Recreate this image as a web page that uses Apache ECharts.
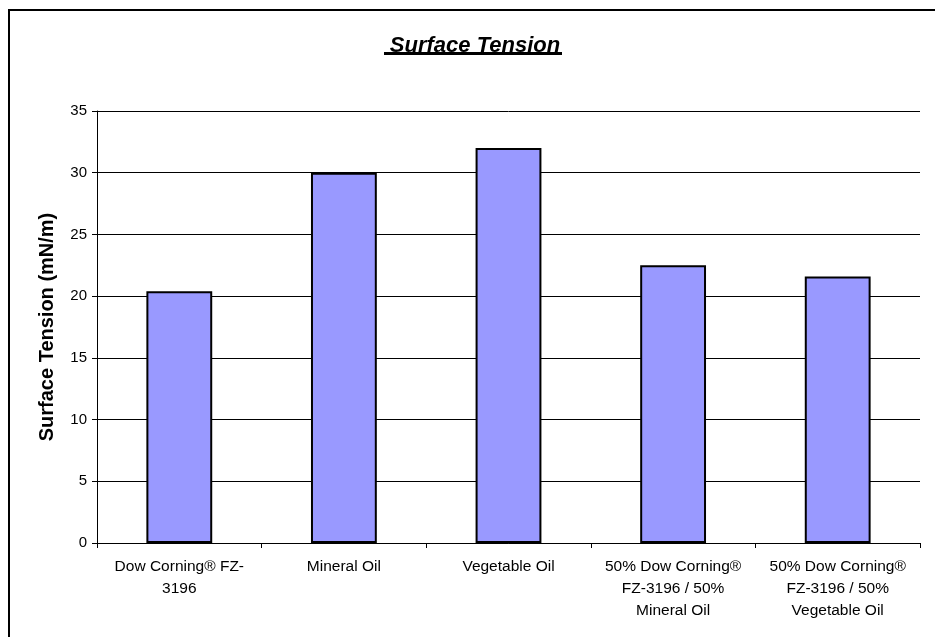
<!DOCTYPE html>
<html>
<head>
<meta charset="utf-8">
<script src="https://cdn.jsdelivr.net/npm/echarts@6/dist/echarts.min.js"></script>
<style>
    html, body { margin: 0; padding: 0; background: #fff; }
    #chart { width: 935px; height: 637px; }
</style>
</head>
<body>
<div id="chart"></div>
<script>
var categories = [
    'Dow Corning® FZ-\n3196',
    'Mineral Oil',
    'Vegetable Oil',
    '50% Dow Corning®\nFZ-3196 / 50%\nMineral Oil',
    '50% Dow Corning®\nFZ-3196 / 50%\nVegetable Oil'
];
var tensionValues = [20.4, 30, 32, 22.5, 21.6];
var yTicks = { min: 0, max: 35, step: 5 };

var myChart = echarts.init(document.getElementById('chart'));
var option = {
    backgroundColor: '#ffffff',
    animation: false,
    title: {
        text: 'Surface Tension',
        left: 470,
        textAlign: 'center',
        top: 30,
        textStyle: {
            fontFamily: 'Liberation Sans, Arial',
            fontSize: 22,
            fontWeight: 'bold',
            fontStyle: 'italic',
            color: '#000'
        }
    },
    // 外框和标题下划线
    graphic: [
        {
            type: 'rect',
            shape: { x: 9, y: 10, width: 960, height: 660 },
            style: { fill: 'none', stroke: '#000', lineWidth: 2 },
            silent: true
        },
        {
            type: 'rect',
            shape: { x: 384, y: 52, width: 178, height: 3 },
            style: { fill: '#000' },
            silent: true
        }
    ],
    grid: {
        left: 97,
        right: 15,
        top: 111,
        bottom: 94
    },
    xAxis: {
        type: 'category',
        data: categories,
        axisLine: { lineStyle: { color: '#000', width: 1 } },
        axisTick: { show: true, alignWithLabel: false, length: 5, lineStyle: { color: '#000' } },
        axisLabel: {
            interval: 0,
            margin: 13,
            color: '#000',
            fontFamily: 'Liberation Sans, Arial',
            fontSize: 15.5,
            lineHeight: 22,
            align: 'center'
        }
    },
    yAxis: {
        type: 'value',
        min: yTicks.min,
        max: yTicks.max,
        interval: yTicks.step,
        name: 'Surface Tension (mN/m)',
        nameLocation: 'middle',
        nameGap: 40,
        nameTextStyle: {
            fontFamily: 'Liberation Sans, Arial',
            fontSize: 20,
            fontWeight: 'bold',
            color: '#000'
        },
        axisLine: { show: true, lineStyle: { color: '#000', width: 1 } },
        axisTick: { show: true, length: 5, lineStyle: { color: '#000' } },
        axisLabel: {
            margin: 10,
            color: '#000',
            fontFamily: 'Liberation Sans, Arial',
            fontSize: 15
        },
        splitLine: { show: true, lineStyle: { color: '#000', width: 1 } }
    },
    series: [
        {
            name: 'Surface Tension',
            type: 'bar',
            data: tensionValues,
            barWidth: '40%',
            itemStyle: {
                color: '#9999FF',
                borderColor: '#000',
                borderWidth: 2
            }
        }
    ]
};
myChart.setOption(option);
</script>
</body>
</html>
